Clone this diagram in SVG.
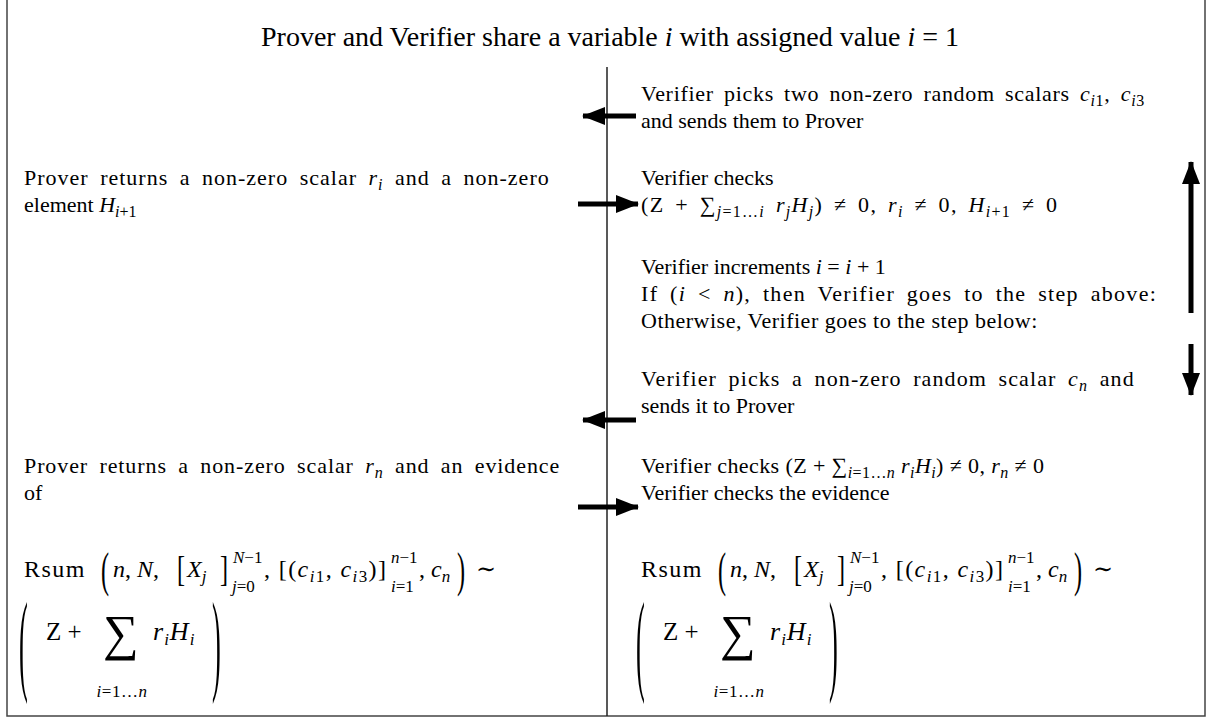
<svg xmlns="http://www.w3.org/2000/svg" width="1208" height="719" viewBox="0 0 1208 719">
<style>
text{font-family:"Liberation Serif","Times New Roman","DejaVu Serif",serif;font-size:22px;fill:#000}
.i{font-style:italic}
.s{font-size:16px}
.m{font-size:24px}
.ms{font-size:17px}
.frame{fill:none;stroke:#444;stroke-width:1.5}
.div{stroke:#222;stroke-width:1.5}
.arr{stroke:#000;stroke-width:5;fill:none}
</style>
<defs>
<marker id="ah" markerUnits="userSpaceOnUse" markerWidth="24" markerHeight="18" refX="22" refY="9" orient="auto">
<path d="M0,0 L23,9 L0,18 Z" fill="#000"/>
</marker>
</defs>
<g id="frame">
<path class="frame" d="M7,-2 V716 H1205 V-2"/>
<line class="div" x1="607" y1="67" x2="607" y2="716"/>
</g>
<g id="title">
<text x="610" y="46" text-anchor="middle" style="font-size:28px">Prover and Verifier share a variable <tspan class="i">i</tspan> with assigned value <tspan class="i">i</tspan> = 1</text>
</g>
<g id="connectors">
<line class="arr" x1="636" y1="116" x2="583" y2="116" marker-end="url(#ah)"/>
<line class="arr" x1="578" y1="204" x2="638" y2="204" marker-end="url(#ah)"/>
<line class="arr" x1="636" y1="420" x2="583" y2="420" marker-end="url(#ah)"/>
<line class="arr" x1="578" y1="507" x2="638" y2="507" marker-end="url(#ah)"/>
<line class="arr" x1="1191" y1="313" x2="1191" y2="162" marker-end="url(#ah)"/>
<line class="arr" x1="1191" y1="344" x2="1191" y2="395" marker-end="url(#ah)"/>
</g>
<g id="v-pick">
<text x="641" y="101" style="word-spacing:4px;letter-spacing:0.7px">Verifier picks two non-zero random scalars <tspan class="i">c</tspan><tspan class="s" dy="5"><tspan class="i">i</tspan>1</tspan><tspan dy="-5">, </tspan><tspan class="i">c</tspan><tspan class="s" dy="5"><tspan class="i">i</tspan>3</tspan></text>
<text x="641" y="128">and sends them to Prover</text>
</g>
<g id="p-return">
<text x="24" y="185" style="word-spacing:5px;letter-spacing:1px">Prover returns a non-zero scalar <tspan class="i">r</tspan><tspan class="s i" dy="5">i</tspan><tspan dy="-5"> and a non-zero</tspan></text>
<text x="24" y="212">element <tspan class="i">H</tspan><tspan class="s" dy="5"><tspan class="i">i</tspan>+1</tspan></text>
</g>
<g id="v-check">
<text x="641" y="185">Verifier checks</text>
<text x="641" y="212" style="word-spacing:4px;letter-spacing:1.3px">(Z + ∑<tspan class="s" dy="5"><tspan class="i">j</tspan>=1…<tspan class="i">i</tspan></tspan><tspan dy="-5"> </tspan><tspan class="i">r</tspan><tspan class="s i" dy="5">j</tspan><tspan class="i" dy="-5">H</tspan><tspan class="s i" dy="5">j</tspan><tspan dy="-5">) ≠ 0, </tspan><tspan class="i">r</tspan><tspan class="s i" dy="5">i</tspan><tspan dy="-5"> ≠ 0, </tspan><tspan class="i">H</tspan><tspan class="s" dy="5"><tspan class="i">i</tspan>+1</tspan><tspan dy="-5"> ≠ 0</tspan></text>
</g>
<g id="v-incr">
<text x="641" y="274">Verifier increments <tspan class="i">i</tspan> = <tspan class="i">i</tspan> + 1</text>
<text x="641" y="301" style="word-spacing:5px;letter-spacing:1.3px">If (<tspan class="i">i</tspan> &lt; <tspan class="i">n</tspan>), then Verifier goes to the step above:</text>
<text x="641" y="328" style="letter-spacing:0.5px">Otherwise, Verifier goes to the step below:</text>
</g>
<g id="v-pick-n">
<text x="641" y="386" style="word-spacing:5px;letter-spacing:1.1px">Verifier picks a non-zero random scalar <tspan class="i">c</tspan><tspan class="s i" dy="5">n</tspan><tspan dy="-5"> and</tspan></text>
<text x="641" y="413">sends it to Prover</text>
</g>
<g id="p-return-n">
<text x="24" y="473" style="word-spacing:5px;letter-spacing:0.9px">Prover returns a non-zero scalar <tspan class="i">r</tspan><tspan class="s i" dy="5">n</tspan><tspan dy="-5"> and an evidence</tspan></text>
<text x="24" y="500">of</text>
</g>
<g id="v-check-n">
<text x="641" y="473" style="letter-spacing:0.4px">Verifier checks (Z + ∑<tspan class="s" dy="5"><tspan class="i">i</tspan>=1…<tspan class="i">n</tspan></tspan><tspan dy="-5"> </tspan><tspan class="i">r</tspan><tspan class="s i" dy="5">i</tspan><tspan class="i" dy="-5">H</tspan><tspan class="s i" dy="5">i</tspan><tspan dy="-5">) ≠ 0, </tspan><tspan class="i">r</tspan><tspan class="s i" dy="5">n</tspan><tspan dy="-5"> ≠ 0</tspan></text>
<text x="641" y="500">Verifier checks the evidence</text>
</g>
<g id="p-rsum">
<text x="24" y="577" class="m" style="letter-spacing:1.5px">Rsum</text>
<text transform="translate(101,586) scale(1.1,2.2)">(</text>
<text x="113" y="577" class="m"><tspan class="i">n</tspan>, <tspan class="i">N</tspan>,</text>
<text transform="translate(177,581) scale(1.1,1.6)">[</text>
<text x="187" y="577" class="m i">X<tspan class="ms" dy="5">j</tspan></text>
<text transform="translate(220,581) scale(1.1,1.6)">]</text>
<text x="233" y="563" class="ms"><tspan class="i">N</tspan>−1</text>
<text x="232" y="592" class="ms"><tspan class="i">j</tspan>=0</text>
<text x="264" y="577" class="m" style="letter-spacing:1.4px">, [(<tspan class="i">c</tspan><tspan class="ms" dy="5"><tspan class="i">i</tspan>1</tspan><tspan dy="-5">, </tspan><tspan class="i">c</tspan><tspan class="ms" dy="5"><tspan class="i">i</tspan>3</tspan><tspan dy="-5">)]</tspan></text>
<text x="391" y="563" class="ms"><tspan class="i">n</tspan>−1</text>
<text x="391" y="592" class="ms"><tspan class="i">i</tspan>=1</text>
<text x="419" y="577" class="m">, <tspan class="i">c</tspan><tspan class="ms i" dy="5">n</tspan></text>
<text transform="translate(457,586) scale(1.1,2.2)">)</text>
<text x="476" y="577" class="m">∼</text>
<text transform="translate(19,680) scale(1.2,5.1)">(</text>
<text x="46" y="640" style="font-size:25px">Z +</text>
<text x="103" y="650" style="font-size:50px">∑</text>
<text x="122" y="697" class="ms" text-anchor="middle" style="letter-spacing:0.5px"><tspan class="i">i</tspan>=1…<tspan class="i">n</tspan></text>
<text x="153" y="640" style="font-size:26px;letter-spacing:1px"><tspan class="i">r</tspan><tspan class="ms i" dy="5">i</tspan><tspan class="i" dy="-5">H</tspan><tspan class="ms i" dy="5">i</tspan></text>
<text transform="translate(212,680) scale(1.2,5.1)">)</text>
</g>
<g id="v-rsum" transform="translate(617,0)">
<text x="24" y="577" class="m" style="letter-spacing:1.5px">Rsum</text>
<text transform="translate(101,586) scale(1.1,2.2)">(</text>
<text x="113" y="577" class="m"><tspan class="i">n</tspan>, <tspan class="i">N</tspan>,</text>
<text transform="translate(177,581) scale(1.1,1.6)">[</text>
<text x="187" y="577" class="m i">X<tspan class="ms" dy="5">j</tspan></text>
<text transform="translate(220,581) scale(1.1,1.6)">]</text>
<text x="233" y="563" class="ms"><tspan class="i">N</tspan>−1</text>
<text x="232" y="592" class="ms"><tspan class="i">j</tspan>=0</text>
<text x="264" y="577" class="m" style="letter-spacing:1.4px">, [(<tspan class="i">c</tspan><tspan class="ms" dy="5"><tspan class="i">i</tspan>1</tspan><tspan dy="-5">, </tspan><tspan class="i">c</tspan><tspan class="ms" dy="5"><tspan class="i">i</tspan>3</tspan><tspan dy="-5">)]</tspan></text>
<text x="391" y="563" class="ms"><tspan class="i">n</tspan>−1</text>
<text x="391" y="592" class="ms"><tspan class="i">i</tspan>=1</text>
<text x="419" y="577" class="m">, <tspan class="i">c</tspan><tspan class="ms i" dy="5">n</tspan></text>
<text transform="translate(457,586) scale(1.1,2.2)">)</text>
<text x="476" y="577" class="m">∼</text>
<text transform="translate(19,680) scale(1.2,5.1)">(</text>
<text x="46" y="640" style="font-size:25px">Z +</text>
<text x="103" y="650" style="font-size:50px">∑</text>
<text x="122" y="697" class="ms" text-anchor="middle" style="letter-spacing:0.5px"><tspan class="i">i</tspan>=1…<tspan class="i">n</tspan></text>
<text x="153" y="640" style="font-size:26px;letter-spacing:1px"><tspan class="i">r</tspan><tspan class="ms i" dy="5">i</tspan><tspan class="i" dy="-5">H</tspan><tspan class="ms i" dy="5">i</tspan></text>
<text transform="translate(212,680) scale(1.2,5.1)">)</text>
</g>
</svg>
